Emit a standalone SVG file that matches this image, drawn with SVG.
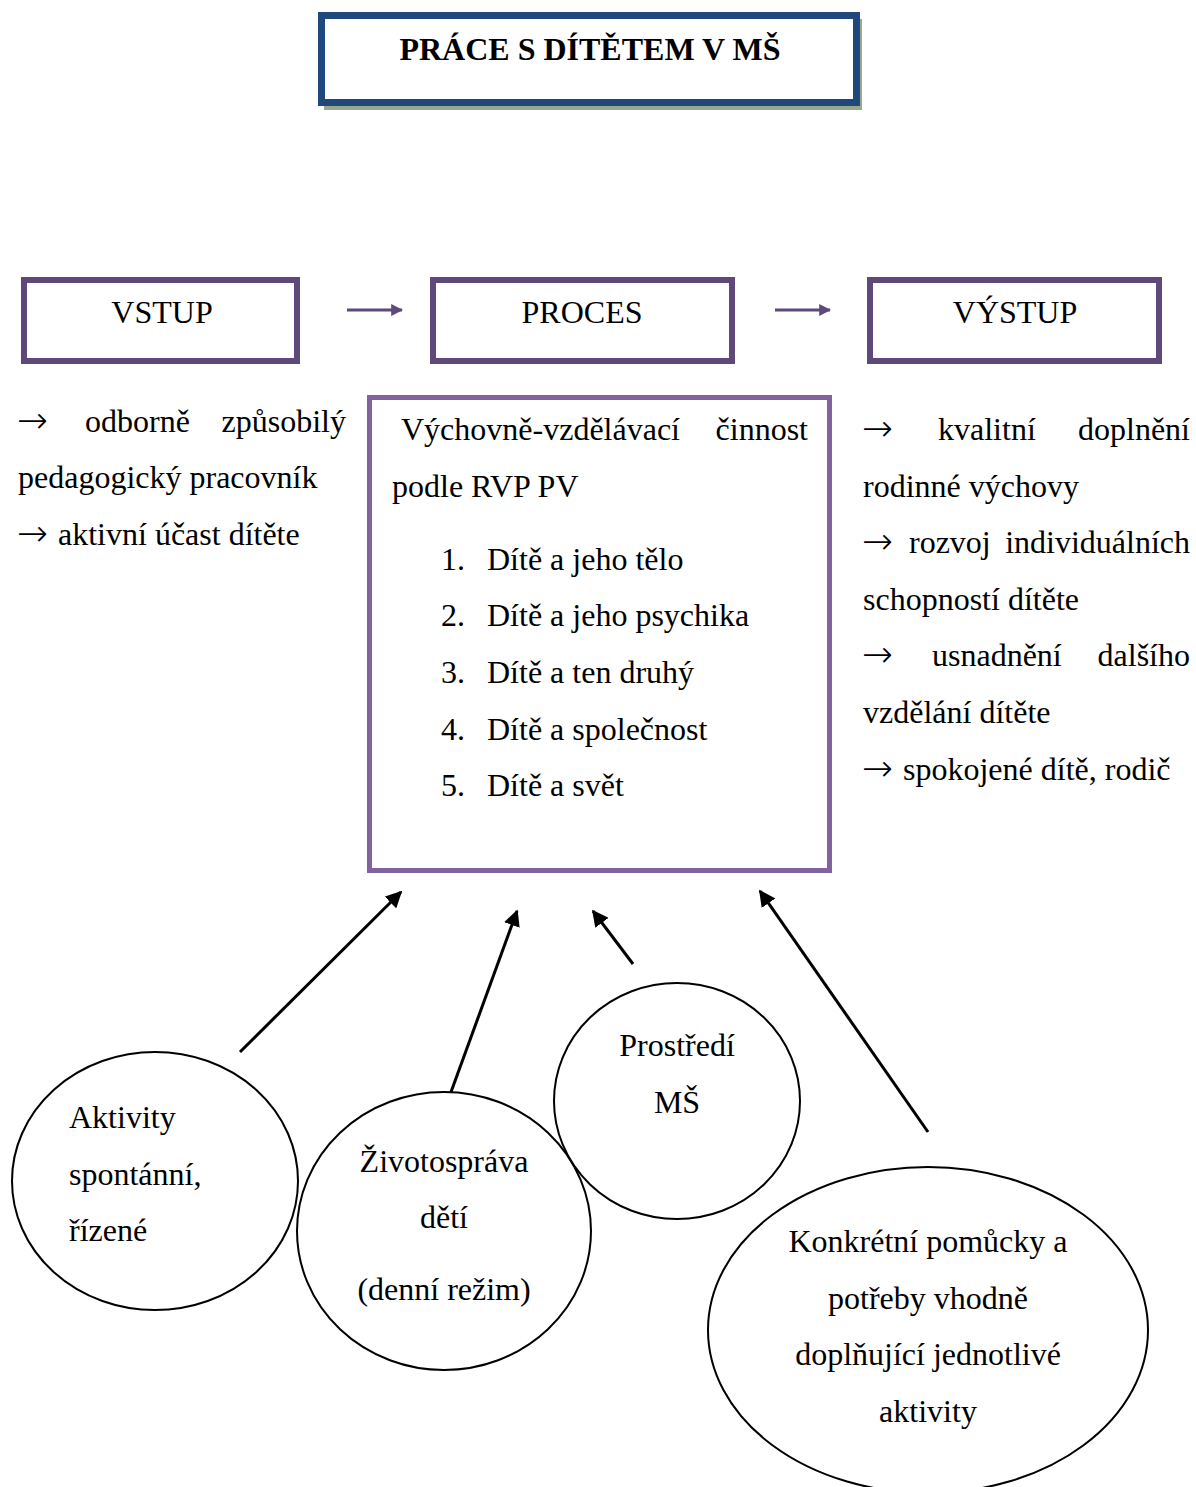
<svg xmlns="http://www.w3.org/2000/svg" width="1196" height="1487" viewBox="0 0 1196 1487">
  <style>
    text { font-family: "Liberation Serif", "Times New Roman", serif; font-size: 32px; fill: #000; }
    .title { font-weight: bold; font-size: 32px; }
    .arr { font-family: "DejaVu Sans", sans-serif; font-size: 37px; font-weight: 200; }
    .end { text-anchor: end; }
    .c { text-anchor: middle; }
    .stage { fill: #fff; stroke: #5F497A; stroke-width: 6; }
    .mid { fill: #fff; stroke: #8064A2; stroke-width: 5; }
    .oval { fill: #fff; stroke: #000; stroke-width: 2; }
    .flow { stroke: #5F497A; stroke-width: 3; fill: none; }
    .feed { stroke: #000; stroke-width: 3; fill: none; }
  </style>
  <defs>
    <marker id="headP" viewBox="0 0 10 10" refX="9" refY="5" markerWidth="4" markerHeight="4" orient="auto" markerUnits="strokeWidth">
      <path d="M0,0 L10,5 L0,10 z" fill="#5F497A"/>
    </marker>
    <marker id="headK" viewBox="0 0 10 10" refX="9" refY="5" markerWidth="5.5" markerHeight="5.5" orient="auto" markerUnits="strokeWidth">
      <path d="M0,0 L10,5 L0,10 z" fill="#000"/>
    </marker>
  </defs>

  <!-- title -->
  <g id="title">
    <rect x="324" y="19" width="538" height="91" fill="#9BA88E"/>
    <rect x="321.5" y="15.5" width="535" height="87" fill="#fff" stroke="#1F497D" stroke-width="7"/>
    <text class="title c" x="590" y="60">PRÁCE S DÍTĚTEM V MŠ</text>
  </g>

  <!-- stage boxes -->
  <g id="vstup">
    <rect class="stage" x="24" y="280" width="273" height="81"/>
    <text class="c" x="162" y="323">VSTUP</text>
  </g>
  <g id="proces">
    <rect class="stage" x="433" y="280" width="299" height="81"/>
    <text class="c" x="582" y="323">PROCES</text>
  </g>
  <g id="vystup">
    <rect class="stage" x="870" y="280" width="289" height="81"/>
    <text class="c" x="1015" y="323">VÝSTUP</text>
  </g>

  <!-- input notes (justified lines set word by word) -->
  <g id="vstup-text">
    <text class="arr" x="17" y="433">→</text>
    <text x="85" y="432">odborně</text>
    <text class="end" x="346" y="432">způsobilý</text>
    <text x="18" y="488">pedagogický pracovník</text>
    <text class="arr" x="17" y="546">→</text>
    <text x="58" y="545">aktivní účast dítěte</text>
  </g>

  <!-- process box -->
  <g id="cinnost">
    <rect class="mid" x="369.5" y="397.5" width="460" height="473"/>
    <text x="401" y="440">Výchovně-vzdělávací</text>
    <text class="end" x="808" y="440">činnost</text>
    <text x="392" y="497">podle RVP PV</text>
    <text x="441" y="570">1.</text><text x="487" y="570">Dítě a jeho tělo</text>
    <text x="441" y="626">2.</text><text x="487" y="626">Dítě a jeho psychika</text>
    <text x="441" y="683">3.</text><text x="487" y="683">Dítě a ten druhý</text>
    <text x="441" y="740">4.</text><text x="487" y="740">Dítě a společnost</text>
    <text x="441" y="796">5.</text><text x="487" y="796">Dítě a svět</text>
  </g>

  <!-- output notes -->
  <g id="vystup-text">
    <text class="arr" x="862" y="441">→</text>
    <text x="938" y="440">kvalitní</text>
    <text class="end" x="1190" y="440">doplnění</text>
    <text x="863" y="497">rodinné výchovy</text>
    <text class="arr" x="862" y="554">→</text>
    <text x="909" y="553">rozvoj</text>
    <text class="end" x="1190" y="553">individuálních</text>
    <text x="863" y="610">schopností dítěte</text>
    <text class="arr" x="862" y="667">→</text>
    <text x="932" y="666">usnadnění</text>
    <text class="end" x="1190" y="666">dalšího</text>
    <text x="863" y="723">vzdělání dítěte</text>
    <text class="arr" x="862" y="781">→</text>
    <text x="903" y="780">spokojené dítě, rodič</text>
  </g>

  <!-- connectors -->
  <g id="connectors">
    <line class="flow" x1="347" y1="310" x2="402" y2="310" marker-end="url(#headP)"/>
    <line class="flow" x1="775" y1="310" x2="830" y2="310" marker-end="url(#headP)"/>
    <line class="feed" x1="240" y1="1052" x2="401" y2="892" marker-end="url(#headK)"/>
    <line class="feed" x1="451" y1="1092" x2="517" y2="911" marker-end="url(#headK)"/>
    <line class="feed" x1="633" y1="964" x2="593" y2="911" marker-end="url(#headK)"/>
    <line class="feed" x1="928" y1="1132" x2="760" y2="891" marker-end="url(#headK)"/>
  </g>

  <!-- influencing factors -->
  <g id="aktivity">
    <ellipse class="oval" cx="155" cy="1181" rx="143" ry="129"/>
    <text x="69" y="1128">Aktivity</text>
    <text x="69" y="1185">spontánní,</text>
    <text x="69" y="1241">řízené</text>
  </g>
  <g id="zivotosprava">
    <ellipse class="oval" cx="444" cy="1231" rx="147" ry="139"/>
    <text class="c" x="444" y="1172">Životospráva</text>
    <text class="c" x="444" y="1228">dětí</text>
    <text class="c" x="444" y="1300">(denní režim)</text>
  </g>
  <g id="prostredi">
    <ellipse class="oval" cx="677" cy="1101" rx="123" ry="118"/>
    <text class="c" x="677" y="1056">Prostředí</text>
    <text class="c" x="677" y="1113">MŠ</text>
  </g>
  <g id="pomucky">
    <ellipse class="oval" cx="928" cy="1330" rx="220" ry="163"/>
    <text class="c" x="928" y="1252">Konkrétní pomůcky a</text>
    <text class="c" x="928" y="1309">potřeby vhodně</text>
    <text class="c" x="928" y="1365">doplňující jednotlivé</text>
    <text class="c" x="928" y="1422">aktivity</text>
  </g>
</svg>
